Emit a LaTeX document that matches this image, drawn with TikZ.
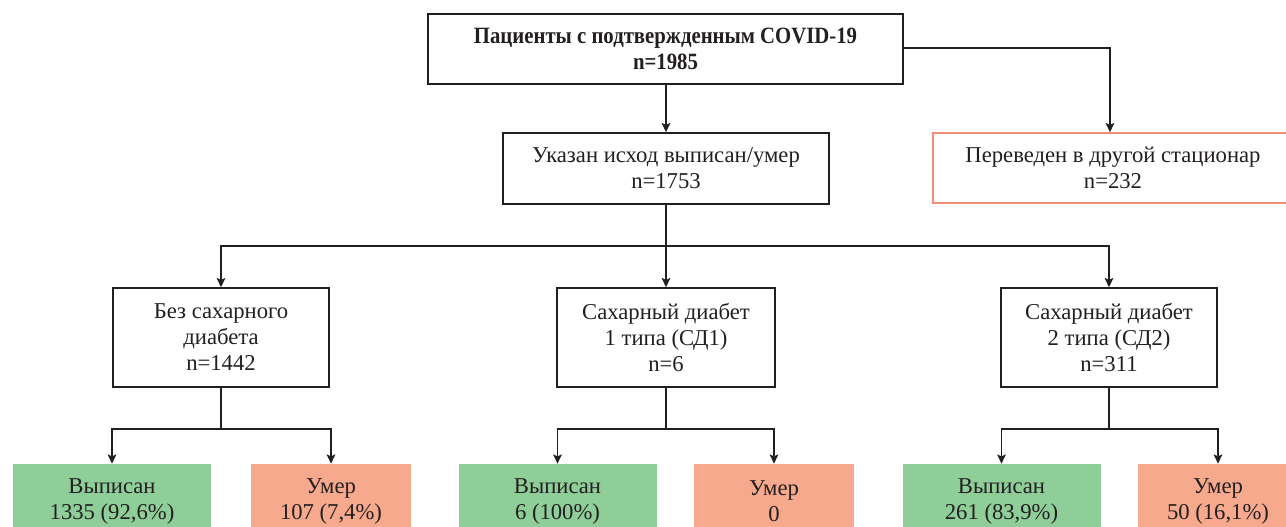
\documentclass[tikz,border=0pt]{standalone}
\usepackage{fontspec}
\setmainfont{Liberation Serif}
\newfontfamily\titlefont[FakeStretch=0.89]{Liberation Serif}
\usetikzlibrary{arrows.meta}
\definecolor{txt}{HTML}{231F20}
\definecolor{gfill}{HTML}{8FCE98}
\definecolor{rfill}{HTML}{F7A98E}
\definecolor{rborder}{HTML}{EE8F7A}
\tikzset{
  box/.style={draw=txt, line width=1.1pt, rectangle, align=center, text=txt, inner sep=0pt,
    font=\fontsize{17}{19.5}\selectfont},
  redbox/.style={box, draw=rborder},
  gbox/.style={rectangle, fill=gfill, align=center, text=txt, inner sep=0pt,
    font=\fontsize{17}{19.5}\selectfont},
  rbox/.style={rectangle, fill=rfill, align=center, text=txt, inner sep=0pt,
    font=\fontsize{17}{19.5}\selectfont},
  conn/.style={draw=txt, line width=1.1pt},
  arr/.style={conn, -{Stealth[length=7pt,width=6.5pt,inset=1.5pt]}}
}
\begin{document}
\begin{tikzpicture}[x=0.75pt,y=-0.75pt]
\useasboundingbox (0,0) rectangle (1286,527);
% top
\node[box, minimum width=475*0.75pt, minimum height=70*0.75pt, font=\titlefont\bfseries\fontsize{17.5}{19.5}\selectfont] (top) at (665.5,49) {Пациенты с подтвержденным COVID-19\\n=1985};
\node[box, minimum width=326*0.75pt, minimum height=71*0.75pt] (out) at (666,168.5) {Указан исход выписан/умер\\n=1753};
\node[redbox, minimum width=360*0.75pt, minimum height=70*0.75pt] (trans) at (1113,168) {Переведен в другой стационар\\n=232};
% level 3
\node[box, minimum width=216*0.75pt, minimum height=99*0.75pt] (nod) at (221,337.5) {Без сахарного\\диабета\\n=1442};
\node[box, minimum width=218*0.75pt, minimum height=99*0.75pt] (sd1) at (666,337.5) {Сахарный диабет\\1 типа (СД1)\\n=6};
\node[box, minimum width=216*0.75pt, minimum height=99*0.75pt] (sd2) at (1109,337.5) {Сахарный диабет\\2 типа (СД2)\\n=311};
% level 4
\node[gbox, minimum width=198*0.75pt, minimum height=74*0.75pt] (g1) at (112,501) {Выписан\\1335 (92,6\%)};
\node[rbox, minimum width=160*0.75pt, minimum height=74*0.75pt] (r1) at (331,501) {Умер\\107 (7,4\%)};
\node[gbox, minimum width=198*0.75pt, minimum height=74*0.75pt] (g2) at (557.5,501) {Выписан\\6 (100\%)};
\node[rbox, minimum width=160*0.75pt, minimum height=74*0.75pt] (r2) at (774,501) {Умер\\0};
\node[gbox, minimum width=198*0.75pt, minimum height=74*0.75pt] (g3) at (1001.5,501) {Выписан\\261 (83,9\%)};
\node[rbox, minimum width=160*0.75pt, minimum height=74*0.75pt] (r3) at (1218,501) {Умер\\50 (16,1\%)};
% coordinates
\coordinate (tr) at (903,48);
\coordinate (h2) at (666,246);
\coordinate (h1) at (221,429);
\coordinate (h3) at (666,429);
\coordinate (h4) at (1109,429);
% connectors
\draw[arr] (top.south -| out.north) -- (out.north);
\draw[arr] (tr) -| (trans.north -| 1110,0);
\draw[conn] (out.south) -- (h2);
\draw[arr] (h2) -| (nod.north);
\draw[arr] (h2) -- (sd1.north);
\draw[arr] (h2) -| (sd2.north);
\draw[conn] (nod.south) -- (h1);
\draw[arr] (h1) -| (g1.north);
\draw[arr] (h1) -| (r1.north);
\draw[conn] (sd1.south) -- (h3);
\draw[arr] (h3) -| (g2.north);
\draw[arr] (h3) -| (r2.north);
\draw[conn] (sd2.south) -- (h4);
\draw[arr] (h4) -| (g3.north);
\draw[arr] (h4) -| (r3.north);
\end{tikzpicture}
\end{document}
